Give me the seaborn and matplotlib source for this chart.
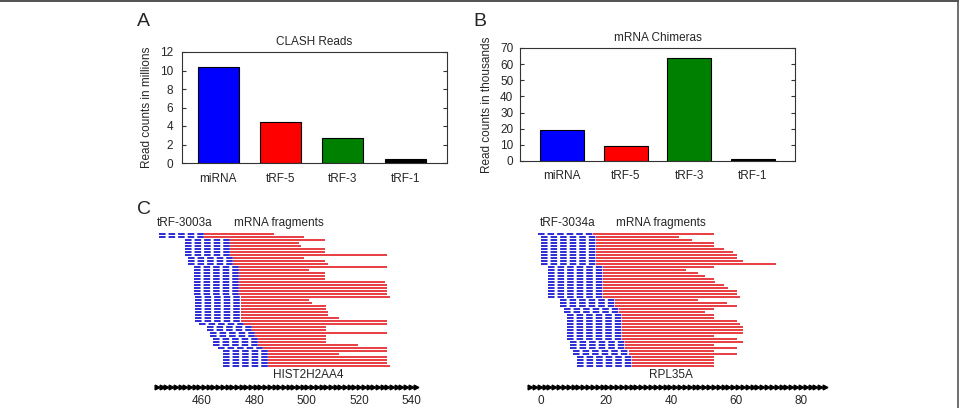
import numpy as np
import matplotlib
matplotlib.use("Agg")
import matplotlib.pyplot as plt
from matplotlib.lines import Line2D
import seaborn as sns

# panel A / B bar data
categories = ["miRNA", "tRF-5", "tRF-3", "tRF-1"]
clash_reads = [10.4, 4.4, 2.7, 0.4]          # millions
mrna_chimeras = [19.0, 9.5, 63.5, 1.0]       # thousands
bar_colors = ["#0000ff", "#ff0000", "#008000", "#000000"]

# panel C, left: tRF-3003a on HIST2H2AA4
left_blue_len = 17.2
left_start = [443.8, 443.8,
              453.6, 453.6, 453.6, 453.6, 453.6, 453.6,
              454.9, 454.9, 454.9,
              456.9, 456.9, 456.9, 456.9, 456.9, 456.9, 456.9, 456.9, 456.9, 456.9,
              457.6, 457.6, 457.6, 457.6, 457.6, 457.6, 457.6, 457.6, 457.6,
              459.1, 461.9, 461.9, 463.2, 463.2, 464.4, 464.4, 464.4, 466.3,
              468.2, 468.2, 468.2, 468.2, 468.2, 468.2]
left_end = [487.7, 499.0, 507.0, 497.0, 498.0, 507.0, 507.0, 530.7, 499.0, 507.0,
            508.0, 530.7, 501.0, 507.0, 507.0, 507.0, 529.8, 530.7, 530.7, 530.7,
            530.7, 531.7, 501.0, 501.9, 507.2, 507.2, 508.2, 508.2, 512.3, 530.7,
            530.7, 507.2, 507.2, 530.7, 507.2, 507.2, 507.2, 519.4, 530.7, 530.7,
            512.3, 530.7, 530.7, 530.7, 531.7]
left_ticks = [460, 480, 500, 520, 540]

# panel C, right: tRF-3034a on RPL35A
right_blue_len = 17.0
right_start = [-0.9,
               0.1, 0.1, 0.1, 0.1, 0.1, 0.1, 0.1, 0.1, 0.1, 0.1,
               2.2, 2.2, 2.2, 2.2, 2.2, 2.2, 2.2, 2.2, 2.2, 2.2, 2.2,
               6.0, 6.0, 6.0, 7.2, 7.2,
               8.0, 8.0, 8.0, 8.0, 8.0, 8.0, 8.0, 8.0, 8.0,
               9.0, 9.0, 9.0, 10.0, 10.0,
               11.1, 11.1, 11.1, 11.1]
right_end = [53.3, 42.5, 46.4, 53.3, 53.3, 56.3, 59.1, 60.3, 60.3, 62.2,
             72.1, 53.3, 44.5, 48.4, 50.5, 53.3, 53.5, 56.3, 57.6, 60.3,
             60.3, 61.2, 48.4, 57.3, 60.3, 53.3, 50.5, 53.3, 53.3, 60.3,
             61.2, 62.0, 62.0, 62.0, 53.3, 60.3, 62.0, 53.3, 60.3, 53.3,
             60.3, 53.3, 53.3, 53.3, 53.3]
right_ticks = [0, 20, 40, 60, 80]

BLUE = "#2323d2"
RED = "#e8363a"

sns.set_style("ticks")
plt.rcParams["font.family"] = ["Liberation Sans", "DejaVu Sans"]
plt.rcParams["font.size"] = 8.5
plt.rcParams["axes.edgecolor"] = "#333333"
plt.rcParams["axes.linewidth"] = 0.8

W, H = 959, 408
fig = plt.figure(figsize=(W / 100, H / 100), dpi=100)


def px_axes(x0, y0, x1, y1):
    return fig.add_axes([x0 / W, 1 - y1 / H, (x1 - x0) / W, (y1 - y0) / H])


def bar_panel(ax, vals, title, ylabel, ymax, step, width, xlim, ypad, xpad):
    sns.barplot(x=categories, y=vals, hue=categories, palette=bar_colors,
                legend=False, width=width, saturation=1, edgecolor="black",
                linewidth=0.8, ax=ax)
    ax.set_xlim(*xlim)
    ax.set_ylim(0, ymax)
    ax.set_yticks(np.arange(0, ymax + 1, step))
    ax.tick_params(axis="y", direction="in", right=True, length=3,
                   pad=ypad, labelsize=8.5, color="#333333")
    ax.tick_params(axis="x", length=0, pad=xpad, labelsize=8.5)
    ax.set_title(title, fontsize=8.5, pad=5)
    ax.set_ylabel(ylabel, fontsize=8.5, labelpad=5)
    ax.set_xlabel("")


axA = px_axes(182, 52, 447, 163)
bar_panel(axA, clash_reads, "CLASH Reads", "Read counts in millions",
          12, 2, 0.66, (-0.58, 3.67), 6.5, 7)

axB = px_axes(520, 48, 795, 161)
bar_panel(axB, mrna_chimeras, "mRNA Chimeras", "Read counts in thousands",
          70, 10, 0.69, (-0.66, 3.66), 4.8, 6.5)


def chimera_panel(ax, start, end, blue_len, xlim, ticks, axis_span, n_arrows,
                  trf_name, gene, trf_x, frag_x, gene_x):
    start = np.array(start)
    end = np.array(end)
    rows = np.arange(len(start))
    ax.hlines(rows, start, start + blue_len, colors=BLUE, linewidth=1.35,
              linestyles=(0, (3.5, 1.6)))
    ax.hlines(rows, start + blue_len, end, colors=RED, linewidth=1.35)
    ax.set_xlim(*xlim)
    ax.set_ylim(52.8, -6.46)
    # gene coordinate line with direction arrows
    xs = np.linspace(axis_span[0], axis_span[1], n_arrows)
    tr = ax.get_xaxis_transform()
    ax.plot(xs, np.full_like(xs, 0.031), color="black", lw=1.0, marker=">",
            markersize=3.4, transform=tr, clip_on=False)
    ax.set_xticks(ticks)
    ax.tick_params(axis="x", length=0, pad=2, labelsize=8.5)
    ax.set_yticks([])
    for s in ax.spines.values():
        s.set_visible(False)
    ax.text(gene_x, 0.096, gene, transform=tr, ha="center", va="center",
            fontsize=8.5)
    ax.text(trf_x, 0.956, trf_name, transform=tr, ha="center", va="center",
            fontsize=8.5)
    ax.text(frag_x, 0.956, "mRNA fragments", transform=tr, ha="center",
            va="center", fontsize=8.5)


axC1 = px_axes(140, 215, 430, 392)
chimera_panel(axC1, left_start, left_end, left_blue_len, (436.5, 547.0),
              left_ticks, (443.0, 541.5), 56, "tRF-3003a", "HIST2H2AA4",
              453.4, 489.4, 500.5)

axC2 = px_axes(520, 215, 830, 392)
chimera_panel(axC2, right_start, right_end, right_blue_len, (-6.29, 88.8),
              right_ticks, (-3.2, 87.3), 62, "tRF-3034a", "RPL35A",
              8.4, 36.8, 40.0)

for letter, x, y in [("A", 137, 22), ("B", 473, 22), ("C", 137, 210)]:
    fig.text(x / W, 1 - y / H, letter, fontsize=14, ha="left", va="center")

# frame edges of the original figure box
fig.add_artist(Line2D([0, 1], [1 - 1 / H, 1 - 1 / H], transform=fig.transFigure,
                      color="#333333", lw=1.2))
fig.add_artist(Line2D([1 - 1.5 / W, 1 - 1.5 / W], [0, 1], transform=fig.transFigure,
                      color="#555555", lw=1.2))

fig.savefig("out.png", dpi=100)
